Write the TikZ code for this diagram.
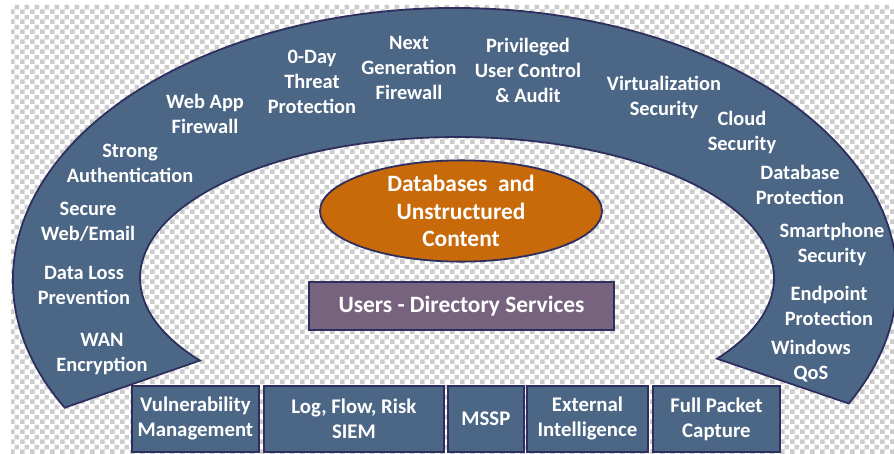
\documentclass[tikz,border=0pt]{standalone}
\usepackage{fontspec}
\setmainfont{Carlito}
\usetikzlibrary{shapes.geometric,patterns}
\definecolor{archblue}{HTML}{4B6785}
\definecolor{edgecol}{HTML}{2E2F5E}
\definecolor{orangefill}{HTML}{C96A0A}
\definecolor{purplefill}{HTML}{78637F}
\definecolor{checkgray}{HTML}{CCCCCC}
\pgfdeclarepatternformonly{checker}{\pgfpointorigin}{\pgfpoint{10pt}{10pt}}{\pgfpoint{10pt}{10pt}}{%
  \pgfpathrectangle{\pgfpointorigin}{\pgfpoint{5pt}{5pt}}%
  \pgfpathrectangle{\pgfpoint{5pt}{5pt}}{\pgfpoint{5pt}{5pt}}%
  \pgfusepath{fill}}
\begin{document}
\begin{tikzpicture}[x=1pt,y=-1pt,
  lbl/.style={text=white,font=\bfseries\fontsize{20.4}{25}\selectfont,align=center,inner sep=0pt},
  boxnode/.style={draw=edgecol,line width=1.8pt,fill=archblue,text=white,
    font=\bfseries\fontsize{20.8}{25}\selectfont,align=center,anchor=north west,inner sep=0pt,
    minimum height=66pt}]
\useasboundingbox (0,0) rectangle (894,453);
\fill[white] (0,0) rectangle (894,453);
\fill[pattern=checker,pattern color=checkgray] (11,4) rectangle (894,453);
% arch
\draw[fill=archblue,draw=edgecol,line width=1.8pt]
  (64.7,407.7) arc[start angle=152,end angle=387,x radius=442,y radius=272]
  -- (717.0,358.7) arc[start angle=34.9,end angle=-215.8,x radius=317,y radius=141] -- cycle;
% arch labels
\node[lbl] (wan) at (102,354) {WAN\\Encryption};
\node[lbl] (dlp) at (84,285) {Data Loss\\Prevention};
\node[lbl] (swe) at (88,222) {Secure\\Web/Email};
\node[lbl] (sa) at (130,163) {Strong\\Authentication};
\node[lbl] (waf) at (205,114) {Web App\\Firewall};
\node[lbl] (zd) at (312,82) {0-Day\\Threat\\Protection};
\node[lbl] (ngf) at (409,68) {Next\\Generation\\Firewall};
\node[lbl] (puc) at (528,70) {Privileged\\User Control\\\& Audit};
\node[lbl] (vs) at (664,97) {Virtualization\\Security};
\node[lbl] (cs) at (742,132) {Cloud\\Security};
\node[lbl] (dp) at (800,185) {Database\\Protection};
\node[lbl] (ss) at (832,244) {Smartphone\\Security};
\node[lbl] (ep) at (829,306) {Endpoint\\Protection};
\node[lbl] (wq) at (811,361) {Windows\\QoS};
% center
\node[ellipse,draw=edgecol,line width=1.8pt,fill=orangefill,minimum width=282pt,minimum height=94pt,
  text=white,font=\bfseries\fontsize{23.4}{27.5}\selectfont,align=center,inner sep=0pt] (db) at (461,211)
  {Databases\ \ and\\Unstructured\\Content};
\node[draw=edgecol,line width=1.8pt,fill=purplefill,minimum width=305pt,minimum height=48pt,
  text=white,font=\bfseries\fontsize{23.4}{25}\selectfont,inner sep=0pt] (uds) at (461.5,306)
  {Users - Directory Services};
% bottom boxes
\node[boxnode,minimum width=127pt] (vm) at (131,385) {Vulnerability\\Management};
\node[boxnode,minimum width=180pt] (siem) at (263,385) {Log, Flow, Risk\\SIEM};
\node[boxnode,minimum width=76pt] (mssp) at (447,385) {MSSP};
\node[boxnode,minimum width=121pt] (ext) at (526,385) {External\\Intelligence};
\node[boxnode,minimum width=127pt] (fpc) at (652,385) {Full Packet\\Capture};
\end{tikzpicture}
\end{document}
